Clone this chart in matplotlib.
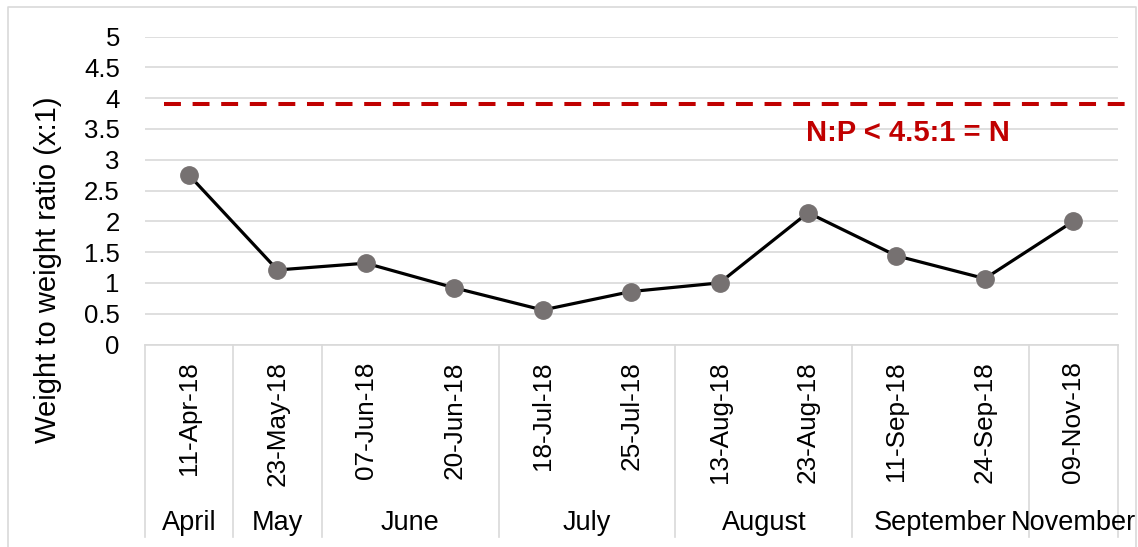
import matplotlib
matplotlib.use("Agg")
import matplotlib.pyplot as plt
from matplotlib.lines import Line2D
import numpy as np

# ---- data ----
dates = ['11-Apr-18', '23-May-18', '07-Jun-18', '20-Jun-18', '18-Jul-18',
         '25-Jul-18', '13-Aug-18', '23-Aug-18', '11-Sep-18', '24-Sep-18',
         '09-Nov-18']
ratios = [2.75, 1.21, 1.32, 0.92, 0.56, 0.86, 1.00, 2.14, 1.44, 1.07, 2.00]
months = ['April', 'May', 'June', 'July', 'August', 'September', 'November']
month_counts = [1, 1, 2, 2, 2, 2, 1]
threshold = 3.9
threshold_label = 'N:P < 4.5:1 = N'
y_ticks = [0, 0.5, 1, 1.5, 2, 2.5, 3, 3.5, 4, 4.5, 5]
y_tick_labels = ['0', '0.5', '1', '1.5', '2', '2.5', '3', '3.5', '4', '4.5', '5']
y_label = 'Weight to weight ratio (x:1)'

plt.rcParams['font.family'] = ['Liberation Sans', 'DejaVu Sans']

W, H = 1138, 547
fig = plt.figure(figsize=(W / 100, H / 100), dpi=100)

# plot area in pixels
left_px, right_px, top_px, bot_px = 144.8, 1117.5, 36.5, 344.5
ax = fig.add_axes([left_px / W, 1 - bot_px / H,
                   (right_px - left_px) / W, (bot_px - top_px) / H])

GRID = '#d9d9d9'
x = np.arange(len(dates))
ax.set_xlim(-0.5, len(dates) - 0.5)
ax.set_ylim(0, 5)
ax.set_yticks(y_ticks)
ax.set_yticklabels(y_tick_labels)
ax.yaxis.grid(True, color=GRID, linewidth=1.2)
ax.set_axisbelow(True)
for s in ['top', 'right', 'left']:
    ax.spines[s].set_visible(False)
ax.spines['bottom'].set_color(GRID)
ax.spines['bottom'].set_linewidth(1.2)
ax.tick_params(axis='y', length=0, labelsize=18.5, pad=18)
ax.tick_params(axis='x', length=0, labelsize=18.8, pad=12)

ax.set_xticks(x)
ax.set_xticklabels(dates, rotation=90, va='top', ha='center')

# series
ax.plot(x, ratios, color='black', linewidth=2.3, marker='o',
        markersize=12.5, markerfacecolor='#767171', markeredgecolor='#767171',
        zorder=3, clip_on=False)

# threshold dashed line (extends past plot area)
ax.plot([-0.28, 10.67], [threshold, threshold], color='#c00000',
        linewidth=2.9, dashes=(4.2, 2.9), clip_on=False, zorder=2,
        solid_capstyle='butt', dash_capstyle='butt')
ax.text(8.13, 3.44, threshold_label, color='#c00000', fontsize=21,
        fontweight='bold', ha='center', va='center')

# multi-level category axis
trans = ax.get_xaxis_transform()
axh = bot_px - top_px
y_sep_bottom = (bot_px - 537) / axh
y_month = (bot_px - 523) / axh
bounds = [-0.5]
for c in month_counts:
    bounds.append(bounds[-1] + c)
for b in bounds:
    ax.add_line(Line2D([b, b], [0, y_sep_bottom], transform=trans,
                       color=GRID, linewidth=1.2, clip_on=False))
for i, m in enumerate(months):
    cx = (bounds[i] + bounds[i + 1]) / 2
    ax.text(cx, y_month, m, transform=trans, ha='center', va='center',
            fontsize=19.5)

# y label
fig.text(48 / W, 1 - 270 / H, y_label, rotation=90, ha='center', va='center',
         fontsize=21)

# chart-area border
border = Line2D([8 / W, 8 / W, 1136 / W, 1136 / W],
                [0, 1 - 7 / H, 1 - 7 / H, 0], transform=fig.transFigure,
                color=GRID, linewidth=1.2)
fig.add_artist(border)

fig.savefig('out.png', dpi=100)
